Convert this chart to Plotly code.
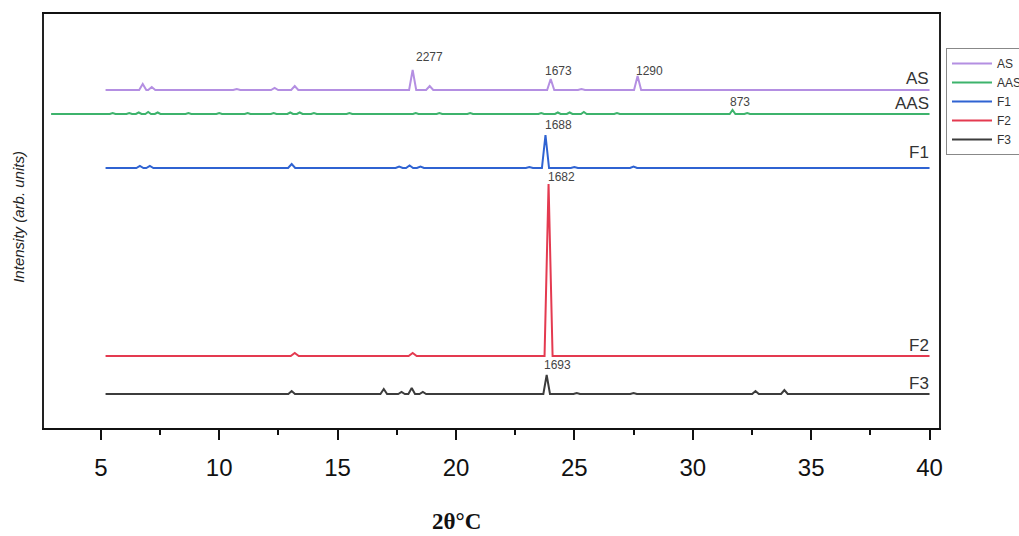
import plotly.graph_objects as go

# ---------------- data ----------------
series_names = ["AS", "AAS", "F1", "F2", "F3"]
series_colors = ["#b48fe2", "#3db36c", "#2f63d2", "#e43a50", "#3c3c3c"]

# offsets (stacked baseline of each pattern, arbitrary units)
baselines = [338, 314, 260, 72, 34]
x_start = [5.2, 2.9, 5.2, 5.2, 5.2]
x_end = [40.0, 40.0, 40.0, 40.0, 40.0]

# peak positions (2θ) and heights above baseline
as_pos = [6.77, 7.15, 10.74, 12.34, 13.19, 18.17, 18.89, 24.0, 25.3, 27.67]
as_h = [6, 3, 1, 2, 4, 20, 4, 11, 1, 14]

aas_pos = [5.5, 6.2, 6.6, 7.0, 7.4, 8.7, 10.0, 11.2, 12.3, 13.0, 13.4, 14.0,
           15.5, 18.3, 19.3, 20.6, 23.6, 24.3, 24.8, 25.4, 26.8, 31.68, 32.3]
aas_h = [1, 1, 1.5, 2, 1.5, 1, 1, 1, 1, 1.5, 1.5, 1,
         1, 1, 1, 1, 1, 1.5, 1.5, 2, 1, 4, 1]

f1_pos = [6.65, 7.07, 13.06, 17.6, 18.04, 18.5, 23.1, 23.78, 25.0, 27.5]
f1_h = [2, 2, 4, 1.5, 2.5, 1.5, 1, 33, 1, 1.5]

f2_pos = [13.19, 18.17, 23.91]
f2_h = [3, 3, 172]

f3_pos = [13.06, 16.95, 17.7, 18.13, 18.6, 23.83, 25.1, 27.5, 32.65, 33.87]
f3_h = [3, 5, 2, 6, 2, 19, 1, 1, 3, 4]

peak_pos = [as_pos, aas_pos, f1_pos, f2_pos, f3_pos]
peak_h = [as_h, aas_h, f1_h, f2_h, f3_h]
half_width = [0.15, 0.12, 0.15, 0.17, 0.14]

# peak labels
peak_labels = ["2277", "1673", "1290", "873", "1688", "1682", "1693"]
peak_label_x = [18.9, 24.33, 28.17, 32.0, 24.33, 24.46, 24.3]
peak_label_y = [371, 357, 357, 326, 303, 251, 63]

# series name labels at the right end
name_label_y = [350, 325, 276, 83, 45]

x_ticks = [5, 10, 15, 20, 25, 30, 35, 40]


def build_polyline(x0, x1, base, pos, hts, w):
    xs, ys = [x0], [base]
    for p, h in sorted(zip(pos, hts)):
        xs += [p - w, p, p + w]
        ys += [base, base + h, base]
    xs.append(x1)
    ys.append(base)
    return xs, ys


fig = go.Figure()
for i, name in enumerate(series_names):
    xs, ys = build_polyline(x_start[i], x_end[i], baselines[i],
                            peak_pos[i], peak_h[i], half_width[i])
    fig.add_trace(go.Scatter(x=xs, y=ys, mode="lines", name=name,
                             line=dict(color=series_colors[i], width=2)))

annotations = []
for t, x, y in zip(peak_labels, peak_label_x, peak_label_y):
    annotations.append(dict(x=x, y=y, text=t, showarrow=False,
                            xref="x", yref="y",
                            font=dict(family="Arial, Liberation Sans", size=12, color="#444")))
for name, y in zip(series_names, name_label_y):
    annotations.append(dict(x=40.08, y=y, text=name, showarrow=False,
                            xref="x", yref="y", xanchor="right", yanchor="middle",
                            font=dict(family="Arial, Liberation Sans", size=17, color="#333")))
# axis titles
annotations.append(dict(x=-0.028, y=0.51, xref="paper", yref="paper",
                        xanchor="center", yanchor="middle",
                        text="<i>Intensity (arb. units)</i>", textangle=-90,
                        showarrow=False,
                        font=dict(family="Arial, Liberation Sans", size=15, color="#222")))
annotations.append(dict(x=(456 - 44) / 895, y=-(521 - 428) / 414, xref="paper", yref="paper",
                        xanchor="center", yanchor="middle",
                        text="<b>2θ°C</b>", showarrow=False,
                        font=dict(family="Liberation Serif, Times New Roman", size=23, color="#111")))

fig.update_layout(
    width=1019, height=536,
    margin=dict(l=44, r=80, t=14, b=108, autoexpand=False),
    plot_bgcolor="white", paper_bgcolor="white",
    showlegend=True,
    legend=dict(x=(946 - 44) / 895, y=(428 - 48) / 414, xanchor="left", yanchor="top",
                bordercolor="#888", borderwidth=1, bgcolor="white",
                font=dict(family="Arial, Liberation Sans", size=12, color="#333"),
                itemwidth=40, tracegroupgap=0),
    annotations=annotations,
)
fig.update_xaxes(range=[2.6, 40.4], tickvals=x_ticks, ticks="outside", ticklen=10, tickwidth=2,
                 tickcolor="#111", showline=True, linewidth=2, linecolor="#111", mirror=True,
                 showgrid=False, zeroline=False, ticklabelstandoff=7,
                 tickfont=dict(family="Arial, Liberation Sans", size=24, color="#111"),
                 minor=dict(tickvals=[7.5, 12.5, 17.5, 22.5, 27.5, 32.5, 37.5], ticks="outside",
                            ticklen=5, tickwidth=2, tickcolor="#111"))
fig.update_yaxes(range=[0, 414], showticklabels=False, ticks="", showline=True, linewidth=2,
                 linecolor="#222", mirror=True, showgrid=False, zeroline=False)

fig.write_html("out.html")
